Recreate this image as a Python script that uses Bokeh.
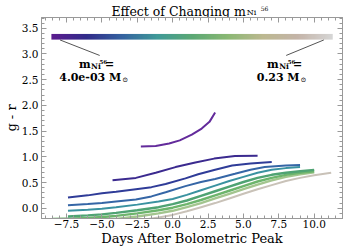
import numpy as np
from bokeh.plotting import figure
from bokeh.layouts import column
from bokeh.models import Label, LinearAxis, SingleIntervalTicker, CustomJSTickFormatter, Range1d
from bokeh.embed import file_html
from bokeh.resources import INLINE

# ---- data ----
c1_x = [-2.25, -1.2, -0.25, 0.5, 1.35, 2.05, 2.6, 3.0]
c1_y = [1.20, 1.21, 1.26, 1.32, 1.43, 1.55, 1.68, 1.86]
c2_x = [-4.25, -2.6, -1.2, 0.2, 1.6, 2.93, 4.4, 6.0]
c2_y = [0.545, 0.59, 0.69, 0.80, 0.89, 0.965, 1.015, 1.02]
c3_x = [-7.4, -6.0, -5.0, -4.0, -2.6, -1.5, -0.5, 0.9, 1.8, 3.0, 4.2, 5.5, 7.0]
c3_y = [0.21, 0.25, 0.29, 0.32, 0.37, 0.41, 0.47, 0.58, 0.66, 0.75, 0.83, 0.87, 0.90]
c4_x = [-7.4, -6.0, -5.0, -4.0, -2.6, -1.5, -0.5, 0.9, 2.0, 3.0, 4.4, 5.5, 6.5, 8.0, 9.0]
c4_y = [0.06, 0.08, 0.10, 0.13, 0.17, 0.23, 0.31, 0.43, 0.51, 0.57, 0.67, 0.75, 0.80, 0.83, 0.84]
c5_x = [-7.4, -6.0, -5.0, -4.0, -2.5, -1.0, 0.0, 1.0, 2.0, 3.0, 4.0, 5.0, 6.0, 7.0, 8.0, 9.0]
c5_y = [-0.05, -0.03, -0.01, 0.02, 0.07, 0.13, 0.18, 0.26, 0.35, 0.44, 0.53, 0.61, 0.69, 0.75, 0.78, 0.80]
c6_x = [-7.4, -6.0, -5.0, -4.0, -2.5, -1.0, 0.0, 1.0, 2.0, 3.0, 4.0, 5.0, 6.0, 7.0, 8.0, 9.0, 10.0]
c6_y = [-0.16, -0.14, -0.12, -0.09, -0.04, 0.02, 0.08, 0.15, 0.24, 0.33, 0.42, 0.51, 0.59, 0.65, 0.69, 0.72, 0.745]
c7_x = [-8.5, -7.0, -6.0, -5.0, -4.0, -2.5, -1.0, 0.0, 1.0, 2.0, 3.0, 4.0, 5.0, 6.0, 7.0, 8.0, 9.0, 10.0]
c7_y = [-0.21, -0.20, -0.19, -0.17, -0.15, -0.10, -0.04, 0.01, 0.08, 0.16, 0.25, 0.34, 0.43, 0.52, 0.59, 0.65, 0.69, 0.72]
c8_x = [-8.5, -6.0, -5.0, -4.0, -2.5, -1.0, 0.0, 1.0, 2.0, 3.0, 4.0, 5.0, 6.0, 7.0, 8.0, 9.0, 10.0]
c8_y = [-0.27, -0.25, -0.23, -0.21, -0.16, -0.10, -0.05, 0.02, 0.10, 0.19, 0.28, 0.37, 0.46, 0.54, 0.61, 0.66, 0.70]
c9_x = [-8.5, -6.0, -4.0, -2.5, -1.0, 0.0, 1.0, 2.0, 3.0, 4.0, 5.0, 6.0, 7.0, 8.0, 9.0, 10.0, 11.2]
c9_y = [-0.33, -0.31, -0.28, -0.24, -0.18, -0.13, -0.06, 0.02, 0.10, 0.19, 0.28, 0.37, 0.45, 0.53, 0.59, 0.64, 0.69]

curve_colors = ["#632b9b", "#3b2a8f", "#2f3c98", "#3566a6", "#3a92a0",
                "#4fa373", "#6db56c", "#a3c58e", "#c9c2b8"]
curve_widths = [2, 2, 2, 2, 2, 2.4, 2.4, 2.4, 2]

cmap_anchors = ["#5c1c8e", "#302c8a", "#3462a0", "#3f9a98", "#5ba874",
                "#8ab873", "#bcb890", "#c4b4a8", "#d6d6d6"]

x_ticks_interval = 2.5
y_ticks_interval = 0.5

title_text = "Effect of Changing m"
sub_text = "Ni"
sup_text = "56"
low_mass = "4.0e-03 M"
high_mass = "0.23 M"
x_label = "Days After Bolometric Peak"
y_label = "g - r"

SERIF = "DejaVu Serif"
W = 346
HT = 17
HM = 249 - HT


def put(fig, x, y, text, size, align="left", bold=False):
    fig.add_layout(Label(x=x, y=y, text=text, text_font=SERIF, text_font_size=size,
                         text_align=align, text_baseline="alphabetic",
                         text_font_style="bold" if bold else "normal", text_color="black"))


# ---- title strip (separate small figure so the sub/superscripts stay real text) ----
tf = figure(width=W, height=HT, output_backend="svg", toolbar_location=None,
            x_range=Range1d(0, W), y_range=Range1d(0, HT), title=None,
            min_border=0, x_axis_location=None, y_axis_location=None)
tf.xgrid.visible = False
tf.ygrid.visible = False
tf.outline_line_color = None
tf.border_fill_color = "white"
put(tf, 235, 6.3, title_text, "12.5px", "right")
put(tf, 236, 4.6, sub_text, "8px")
put(tf, 252, 9.3, sup_text, "6px")

# ---- main figure ----
p = figure(width=W, height=HM, output_backend="svg", toolbar_location=None,
           x_range=Range1d(-9.27, 12.0), y_range=Range1d(-0.2, 3.71),
           min_border_left=38, min_border_right=4, min_border_top=0, min_border_bottom=31,
           title=None)
p.xgrid.visible = False
p.ygrid.visible = False
p.outline_line_color = "#999999"
p.background_fill_color = "white"
p.border_fill_color = "white"

neg = "return (tick < -1e-9 ? '\\u2212' : '') + Math.abs(tick).toFixed(1);"


def style_axis(ax, labels=True, standoff=3):
    ax.major_tick_in = 5
    ax.major_tick_out = 0
    ax.minor_tick_in = 3
    ax.minor_tick_out = 0
    ax.major_tick_line_color = "#999999"
    ax.minor_tick_line_color = "#999999"
    ax.axis_line_color = "#999999"
    if labels:
        ax.formatter = CustomJSTickFormatter(code=neg)
        ax.major_label_text_font = SERIF
        ax.major_label_text_font_size = "10.5px"
        ax.major_label_text_color = "black"
        ax.major_label_standoff = standoff
        ax.axis_label_text_font = SERIF
        ax.axis_label_text_font_size = "13px"
        ax.axis_label_text_font_style = "normal"
        ax.axis_label_text_color = "black"
        ax.axis_label_standoff = 0
    else:
        ax.formatter = CustomJSTickFormatter(code="return '';")
        ax.major_label_standoff = 0
        ax.major_label_text_font_size = "1px"


p.xaxis.ticker = SingleIntervalTicker(interval=x_ticks_interval, num_minor_ticks=5)
p.yaxis.ticker = SingleIntervalTicker(interval=y_ticks_interval, num_minor_ticks=5)
style_axis(p.xaxis[0], True, 1)
style_axis(p.yaxis[0], True, 3)
p.xaxis.axis_label = x_label
p.yaxis.axis_label = y_label
top = LinearAxis(ticker=SingleIntervalTicker(interval=x_ticks_interval, num_minor_ticks=5))
right = LinearAxis(ticker=SingleIntervalTicker(interval=y_ticks_interval, num_minor_ticks=5))
style_axis(top, False)
style_axis(right, False)
p.add_layout(top, "above")
p.add_layout(right, "right")

# curves
xs = [c1_x, c2_x, c3_x, c4_x, c5_x, c6_x, c7_x, c8_x, c9_x]
ys = [c1_y, c2_y, c3_y, c4_y, c5_y, c6_y, c7_y, c8_y, c9_y]
for cx, cy, col, lw in reversed(list(zip(xs, ys, curve_colors, curve_widths))):
    p.line(cx, cy, line_color=col, line_width=lw)


# colorbar gradient
def hex2rgb(h):
    return [int(h[i:i + 2], 16) for i in (1, 3, 5)]


anch = np.array([hex2rgb(c) for c in cmap_anchors], dtype=float)
pos = np.linspace(0, 1, len(cmap_anchors))
t = np.linspace(0, 1, 256)
palette = ["#%02x%02x%02x" % tuple(int(round(np.interp(v, pos, anch[:, k]))) for k in range(3)) for v in t]
grad = np.linspace(0, 1, 256)[None, :]
p.image(image=[grad], x=-8.57, y=3.28, dw=19.88, dh=0.11, palette=palette)

# annotation lines
p.line([-7.96, -5.16], [3.273, 2.972], line_color="#555555", line_width=1)
p.line([10.68, 8.02], [3.273, 2.972], line_color="#555555", line_width=1)

# left annotation
put(p, -5.805, 2.799, "m", "11px", "right", True)
put(p, -5.77, 2.750, sub_text, "7.5px", "left", True)
put(p, -5.175, 2.853, sup_text, "5.5px", "left", True)
put(p, -4.79, 2.799, "=", "11px", "left", True)
put(p, -3.635, 2.535, low_mass, "11px", "right", True)
put(p, -3.565, 2.496, "\u2299", "7px", "left")

# right annotation
put(p, 7.495, 2.799, "m", "11px", "right", True)
put(p, 7.53, 2.750, sub_text, "7.5px", "left", True)
put(p, 8.125, 2.853, sup_text, "5.5px", "left", True)
put(p, 8.51, 2.799, "=", "11px", "left", True)
put(p, 8.965, 2.535, high_mass, "11px", "right", True)
put(p, 9.035, 2.496, "\u2299", "7px", "left")

layout = column(tf, p, spacing=0)
open("out.html", "w").write(file_html(layout, INLINE))
